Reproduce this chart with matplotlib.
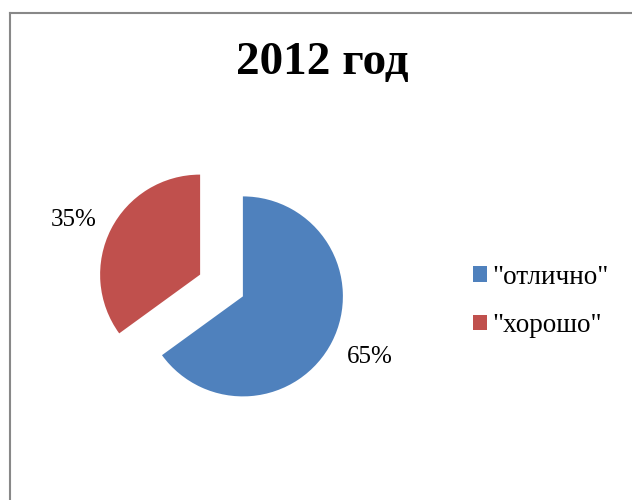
import matplotlib
matplotlib.use("Agg")
import matplotlib.pyplot as plt
import numpy as np
from matplotlib.lines import Line2D

categories = ['"отлично"', '"хорошо"']
values = [65, 35]
title = "2012 год"

colors = ["#4F81BD", "#C0504D"]
plt.rcParams['font.family'] = ['Liberation Serif', 'DejaVu Serif']

fig = plt.figure(figsize=(6.32, 5.0), dpi=100)
ax = fig.add_axes([0, 0, 1, 1])

# pixel layout: y measured from bottom, explode in data units
radius = 100
wedges, texts, autotexts = ax.pie(
    values, colors=colors, startangle=90, counterclock=False,
    center=(221.5, 500 - 285.5), radius=radius, explode=(24, 24),
    autopct='%1.0f%%', pctdistance=1.39, frame=True,
    textprops={'fontsize': 18, 'color': 'black'})
ax.set_xlim(0, 632)
ax.set_ylim(0, 500)
ax.set_aspect('auto')
ax.axis('off')

# nudge the percent labels a little around each wedge, like Excel does
for w, t in zip(wedges, autotexts):
    mid = np.deg2rad((w.theta1 + w.theta2) / 2 + 2.5)
    cx, cy = w.center
    t.set_position((cx + 1.39 * radius * np.cos(mid),
                    cy + 1.39 * radius * np.sin(mid) - 3))

fig.text(322 / 632, 1 - 63 / 500, title, ha='center', va='center',
         fontsize=34, fontweight='bold')

leg = fig.legend(wedges, categories, loc='center left',
                 bbox_to_anchor=(472.5 / 632, 1 - 301.5 / 500), frameon=False,
                 fontsize=19.5, handlelength=0.52, handleheight=0.52,
                 handletextpad=0.2, labelspacing=0.85,
                 borderpad=0, borderaxespad=0)

# chart border (cut off at right and bottom)
fig.add_artist(Line2D([9.5 / 632, 9.5 / 632], [0, 1 - 12.5 / 500],
                      transform=fig.transFigure, color='#888888', lw=1.5))
fig.add_artist(Line2D([9.5 / 632, 1], [1 - 12.5 / 500, 1 - 12.5 / 500],
                      transform=fig.transFigure, color='#888888', lw=1.5))

fig.savefig("out.png", dpi=100)
